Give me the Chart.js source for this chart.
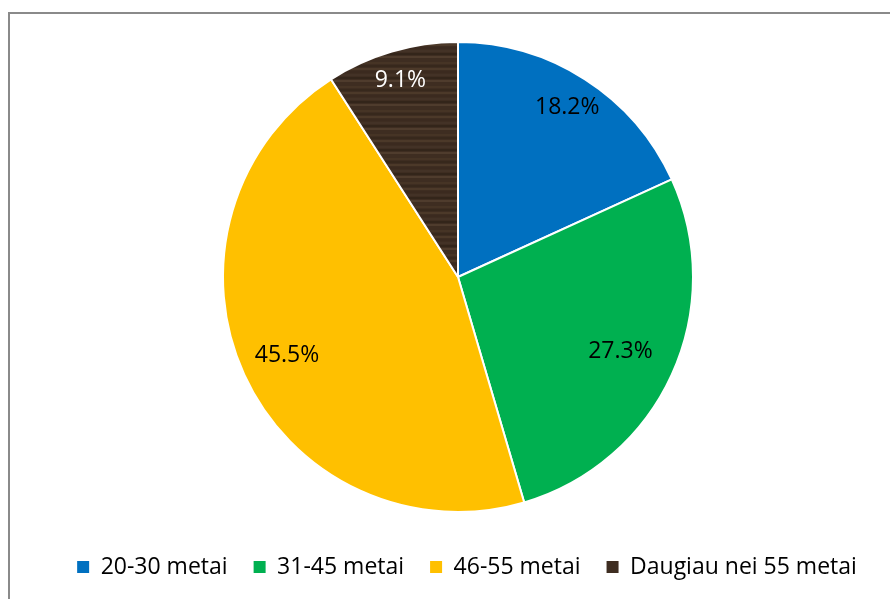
<!DOCTYPE html>
<html>
<head>
<meta charset="utf-8">
<script src="https://cdn.jsdelivr.net/npm/chart.js@4/dist/chart.umd.min.js"></script>
<style>
  html, body { margin: 0; padding: 0; background: #fff; overflow: hidden; }
  .frame {
    position: absolute; left: 8px; top: 12px; width: 900px; height: 620px;
    border-top: 2px solid #8a8a8a; border-left: 2px solid #8a8a8a;
  }
  .wrap { position: absolute; left: 10px; top: 14px; width: 880px; height: 585px; }
</style>
</head>
<body>
<div class="frame"></div>
<div class="wrap"><canvas id="pie"></canvas></div>
<script>
const ageGroups = ['20-30 metai', '31-45 metai', '46-55 metai', 'Daugiau nei 55 metai'];
const shares = [18.2, 27.3, 45.5, 9.1];
const sliceColors = ['#0070C0', '#00B050', '#FFC000', '#3E2D21'];
const labelColors = ['#000', '#000', '#000', '#fff'];

// wood-grain fill for the last slice: horizontal streaks of browns
function woodPattern() {
  const c = document.createElement('canvas');
  c.width = 160; c.height = 48;
  const g = c.getContext('2d');
  g.fillStyle = '#3e2d21';
  g.fillRect(0, 0, c.width, c.height);
  const streaks = ['#4a3728', '#35261b', '#523e2d', '#3a2a1f', '#46342a', '#2f2218', '#574333', '#3f2e22'];
  for (let y = 0; y < c.height; y += 3) {
    g.fillStyle = streaks[(y / 3) % streaks.length];
    g.globalAlpha = 0.7;
    g.fillRect(0, y, c.width, 2);
  }
  g.globalAlpha = 1;
  return g.createPattern(c, 'repeat');
}

const pieLabels = {
  id: 'pieLabels',
  afterDatasetsDraw(chart, args, opts) {
    const ctx = chart.ctx;
    const arcs = chart.getDatasetMeta(0).data;
    ctx.save();
    ctx.font = '23px "Open Sans"';
    ctx.textAlign = 'center';
    ctx.textBaseline = 'middle';
    arcs.forEach((arc, i) => {
      const p = arc.getProps(['x', 'y', 'startAngle', 'endAngle', 'outerRadius']);
      const mid = (p.startAngle + p.endAngle) / 2;
      const r = p.outerRadius * opts.reach[i];
      ctx.fillStyle = labelColors[i];
      ctx.fillText(shares[i].toFixed(1) + '%', p.x + Math.cos(mid) * r, p.y + Math.sin(mid) * r);
    });
    ctx.restore();
  }
};

// nudge the legend row a little right of the pie's centre line
const legendShift = {
  id: 'legendShift',
  afterLayout(chart, args, opts) {
    if (chart.legend) {
      chart.legend.left += opts.dx;
      chart.legend.right += opts.dx;
    }
  }
};

const colors = sliceColors.slice();
colors[3] = woodPattern();

new Chart(document.getElementById('pie'), {
  type: 'pie',
  data: {
    labels: ageGroups,
    datasets: [{
      data: shares,
      backgroundColor: colors,
      borderColor: '#fff',
      borderWidth: 2,
      radius: 235
    }]
  },
  options: {
    responsive: true,
    maintainAspectRatio: false,
    animation: false,
    layout: { padding: { top: 10.5, bottom: 10.5, left: 16, right: 0 } },
    plugins: {
      tooltip: { enabled: false },
      legend: {
        position: 'bottom',
        labels: {
          boxWidth: 12,
          boxHeight: 12,
          padding: 26,
          color: '#000',
          font: { family: 'Open Sans', size: 23 },
          generateLabels(chart) {
            return ageGroups.map((name, i) => ({
              text: name,
              fillStyle: sliceColors[i],
              strokeStyle: sliceColors[i],
              lineWidth: 0,
              index: i
            }));
          }
        }
      },
      legendShift: { dx: 9 },
      pieLabels: { reach: [0.86, 0.76, 0.8, 0.87] }
    }
  },
  plugins: [pieLabels, legendShift]
});
</script>
</body>
</html>
